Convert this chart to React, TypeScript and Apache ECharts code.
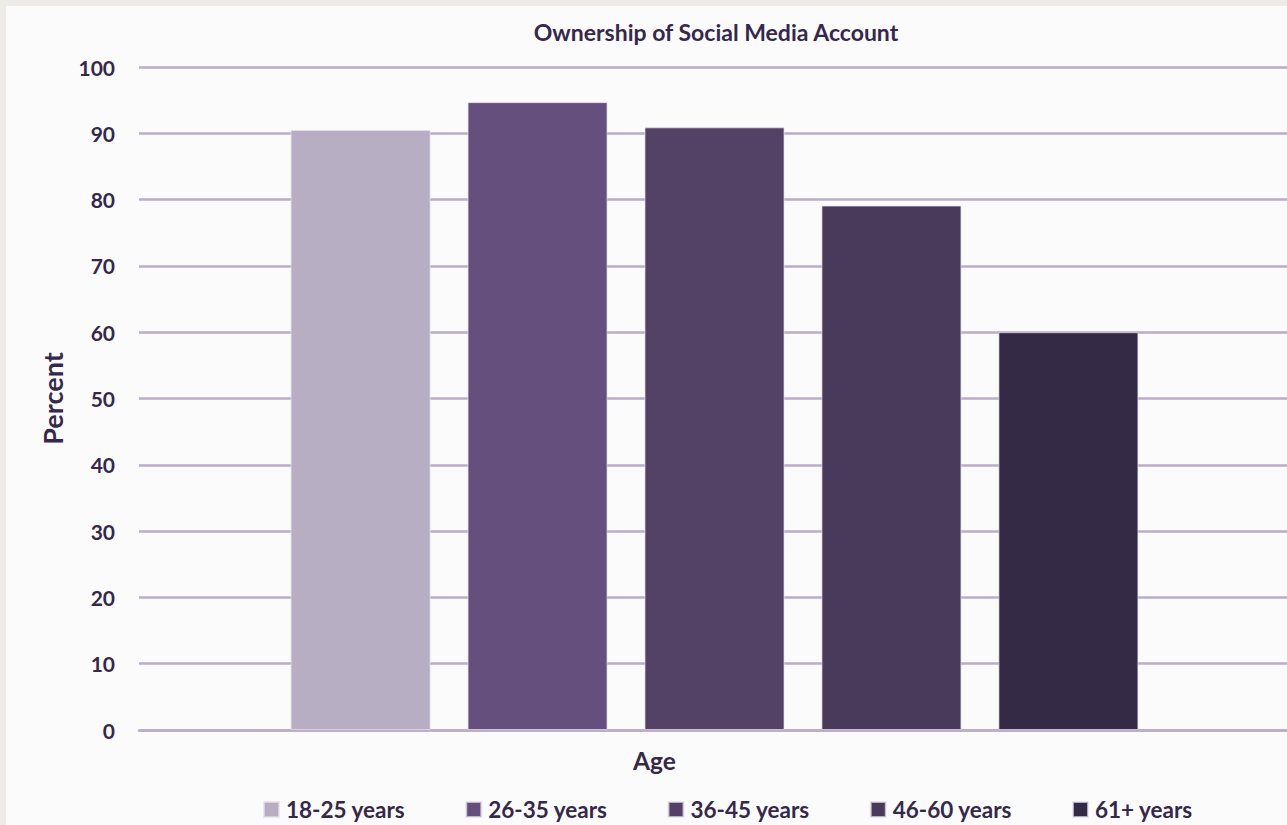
import React, { useEffect, useRef } from "react";
import * as echarts from "echarts";

// Share of respondents who own a social media account, by age band
const ageGroups = ["18-25 years", "26-35 years", "36-45 years", "46-60 years", "61+ years"];
const percentValues = [90.5, 94.7, 90.9, 79.1, 60.0];
const barColors = ["#B7AEC4", "#654F7C", "#534266", "#493A5C", "#342A45"];
const categoryLabels = ["Age"];
const yTicks = { min: 0, max: 100, interval: 10 };

const textColor = "#35284A";
const gridColor = "#B9ADC9";
const fontFamily = "Lato, 'Open Sans', sans-serif";

export default function App() {
  const ref = useRef<HTMLDivElement>(null);

  useEffect(() => {
    if (!ref.current) return;
    const chart = echarts.init(ref.current, null, { renderer: "svg" });

    const series = ageGroups.map((name, i) => ({
      name,
      type: "bar" as const,
      data: [percentValues[i]],
      barWidth: 140,
      barGap: "26.4%",
      itemStyle: {
        color: barColors[i],
        borderColor: "rgba(230,224,238,0.7)",
        borderWidth: 1,
      },
    }));

    chart.setOption({
      animation: false,
      backgroundColor: "#FBFBFC",
      textStyle: { fontFamily, color: textColor },
      title: {
        text: "Ownership of Social Media Account",
        left: 705,
        top: 9,
        textAlign: "center",
        textStyle: { fontFamily, fontSize: 23, fontWeight: "bold", color: textColor },
      },
      grid: { left: 133, right: 0, top: 61, bottom: 95, containLabel: false },
      legend: {
        left: 252,
        bottom: -1,
        itemWidth: 15,
        itemHeight: 15,
        itemGap: 60,
        icon: "rect",
        textStyle: {
          fontFamily,
          fontSize: 22.5,
          fontWeight: "bold",
          color: textColor,
          width: 120,
          padding: [0, 0, 0, 2],
        },
        data: ageGroups,
      },
      xAxis: {
        type: "category",
        data: categoryLabels,
        axisLine: { show: true, lineStyle: { color: gridColor, width: 2.5 } },
        axisTick: { show: false },
        axisLabel: { show: false },
      },
      yAxis: {
        type: "value",
        min: yTicks.min,
        max: yTicks.max,
        interval: yTicks.interval,
        name: "Percent",
        nameLocation: "middle",
        nameGap: 73,
        nameTextStyle: { fontFamily, fontSize: 27, fontWeight: "bold", color: textColor },
        axisLine: { show: false },
        axisTick: { show: false },
        axisLabel: {
          margin: 24,
          fontFamily,
          fontSize: 21,
          fontWeight: "bold",
          color: textColor,
        },
        splitLine: { lineStyle: { color: gridColor, width: 2.5 } },
      },
      graphic: [
        {
          type: "text",
          x: 648.5,
          y: 754,
          style: {
            text: "Age",
            align: "center",
            verticalAlign: "middle",
            fontFamily,
            fontSize: 24.5,
            fontWeight: "bold",
            fill: textColor,
          },
        },
      ],
      series,
    });

    return () => chart.dispose();
  }, []);

  return (
    <div
      style={{
        position: "fixed",
        left: 0,
        top: 0,
        width: 1287,
        height: 825,
        overflow: "hidden",
        background: "#ECEBE8",
      }}
    >
      <div
        ref={ref}
        style={{ position: "absolute", left: 6, top: 6, width: 1284, height: 819 }}
      />
    </div>
  );
}
